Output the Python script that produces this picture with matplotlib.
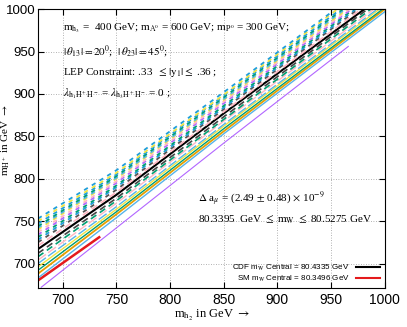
import numpy as np
import matplotlib.pyplot as plt

plt.rcParams['font.family'] = ['Liberation Sans', 'DejaVu Sans']
plt.rcParams['mathtext.fontset'] = 'stix'

# scan bands, bottom to top at x0, 750, 850 and the end
band_color = ['#b266ff', '#e41a1c', '#56b4e9', '#e69f00', '#009e73', '#f0e442',
              '#56b4e9', '#ffb6c1', '#009e73', '#444444', '#000000', '#ffb6c1',
              '#555555', '#1f9ed9', '#009e73', '#b266ff', '#ffb6c1', '#f0e442',
              '#56b4e9', '#009e73', '#1f9ed9', '#f0e442', '#1f9ed9']
band_style = ['solid', 'solid', 'solid', 'solid', 'solid', 'solid',
              'long', 'long', 'dash', 'dash', 'solid', 'dash',
              'dot', 'dot', 'dot', 'dot', 'dot', 'dot',
              'dot', 'dot', 'dot', 'dot', 'dot']
x0 = [680, 677, 677, 677, 677, 677, 677, 677, 677, 677, 677, 677,
      677, 677, 677, 677, 677, 677, 677, 677, 677, 677, 677]
y0 = [672, 680, 683, 688, 692, 696, 700, 704, 708, 712, 717, 721,
      725, 728, 731, 734, 737, 740, 742, 744, 747, 750, 753]
xa = [750, 696, 750, 750, 750, 750, 750, 750, 750, 750, 750, 750,
      750, 750, 750, 750, 750, 750, 750, 750, 750, 750, 750]
ya = [742, 697, 754, 758, 761, 764, 767, 771, 774, 777, 781, 784,
      787, 790, 792, 795, 797, 800, 801, 803, 805, 807, 810]
xb = [850, 715, 850, 850, 850, 850, 850, 850, 850, 850, 850, 850,
      850, 850, 850, 850, 850, 850, 850, 850, 850, 850, 850]
yb = [842, 714, 853, 856, 859, 862, 864, 868, 870, 873, 877, 879,
      882, 884, 886, 889, 891, 893, 894, 896, 898, 899, 902]
x1 = [966, 734, 1000, 1000, 998, 995, 993, 990, 987, 984, 981, 978,
      975, 973, 971, 969, 967, 965, 963, 961, 959, 956, 952]
y1 = [956, 731, 997, 1000, 1000, 1000, 1000, 1000, 1000, 1000, 1000, 1000,
      1000, 1000, 1000, 1000, 1000, 1000, 1000, 1000, 1000, 1000, 998]
band_lw = [0.8, 1.8, 1.0, 1.3, 1.0, 1.0, 1.0, 1.0, 1.2, 1.2, 1.5, 1.2,
           1.3, 1.3, 1.3, 1.3, 1.3, 1.3, 1.3, 1.3, 1.3, 1.3, 1.3]

legend_labels = ['CDF m$_\\mathrm{W}$ Central = 80.4335 GeV', 'SM m$_\\mathrm{W}$ Central = 80.3496 GeV']
legend_colors = ['#000000', '#e41a1c']

dashes = {'solid': None, 'long': (7, 2), 'dash': (4, 2.5), 'dot': (2.4, 2.6)}

fig = plt.figure(figsize=(4.07, 3.27), dpi=100)
ax = fig.add_axes([0.0934, 0.119, 0.852, 0.853])

for i in range(len(band_color)):
    line, = ax.plot([x0[i], xa[i], xb[i], x1[i]], [y0[i], ya[i], yb[i], y1[i]],
                    color=band_color[i], lw=band_lw[i])
    if dashes[band_style[i]] is not None:
        line.set_dashes(dashes[band_style[i]])

h1, = ax.plot([], [], color=legend_colors[0], lw=1.5)
h2, = ax.plot([], [], color=legend_colors[1], lw=1.5)
leg = ax.legend([h1, h2], legend_labels, loc='lower right', frameon=False,
                fontsize=5.8, markerfirst=False, handlelength=3.0,
                borderaxespad=0.15, labelspacing=0.1)

ax.set_xlim(677, 1000)
ax.set_ylim(671, 1000)
ax.set_xticks(np.arange(700, 1001, 50))
ax.set_yticks(np.arange(700, 1001, 50))
ax.tick_params(direction='in', top=True, right=True, labelsize=10, length=4, width=0.8)
ax.tick_params(axis='y', labelsize=9.5, pad=2)
ax.grid(True, color='#999999', linestyle=(0, (1, 2)), linewidth=0.6)

serif = 'Liberation Serif'
ax.set_xlabel(r'm$_{\mathrm{h}_2}$ in GeV $\rightarrow$', family=serif, fontsize=9, labelpad=1)
ax.set_ylabel(r'm$_{\mathrm{H}^+}$ in GeV $\rightarrow$', family=serif, fontsize=8)
ax.yaxis.set_label_coords(-0.076, 0.53)

txt = dict(family=serif, fontsize=8, va='center', ha='left')
ax.text(700, 977, r'm$_{\mathrm{h}_3}$ =  400 GeV; m$_{\mathrm{A}^0}$ = 600 GeV; m$_{\mathrm{P}^0}$ = 300 GeV;', **txt)
ax.text(700, 950, r'$|\,\theta_{13}| = 20^0$;  $|\,\theta_{23}| = 45^0$;', **txt)
ax.text(700, 925, r'LEP Constraint: .33  $\leq |\mathrm{y}_1| \leq$ .36 ;', **txt)
ax.text(700, 900, r'$\lambda_{\mathrm{h_1H^+H^-}}$ = $\lambda_{\mathrm{h_3H^+H^-}}$ = 0 ;', **txt)
ax.text(826, 776, r'$\Delta$ a$_\mu$ = (2.49 $\pm$ 0.48) $\times$ 10$^{-9}$', **txt)
ax.text(826, 752, r'80.3395  GeV $\leq$ m$_\mathrm{W}$ $\leq$ 80.5275 GeV', **txt)

fig.savefig('out.png', dpi=100)
